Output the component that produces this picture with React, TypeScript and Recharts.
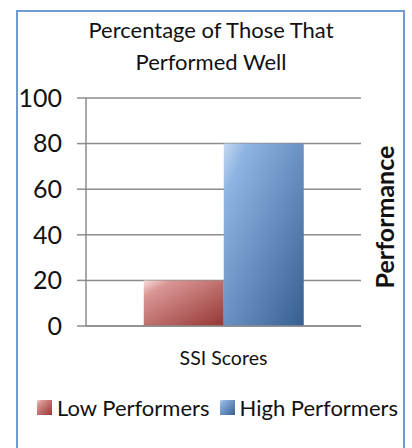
import { Bar, BarChart, CartesianGrid, Legend, XAxis, YAxis } from "recharts";

const categories = ["SSI Scores"];
const lowPerformers = [20];
const highPerformers = [80];
const yTicks = [0, 20, 40, 60, 80, 100];
const categoryEdges = [0, 1];

const data = categories.map((name, i) => ({
  name,
  low: lowPerformers[i],
  high: highPerformers[i],
}));

const FONT = "Lato, Carlito, Calibri, sans-serif";

const legendItems = [
  { label: "Low Performers", fill: "url(#redGrad)" },
  { label: "High Performers", fill: "url(#blueGrad)" },
];

function LegendContent() {
  return (
    <div style={{ display: "flex", alignItems: "center", fontFamily: FONT, fontSize: 22, color: "#111" }}>
      {legendItems.map((it, i) => (
        <div key={it.label} style={{ display: "flex", alignItems: "center", marginRight: i === 0 ? 10 : 0 }}>
          <svg width={15} height={15} style={{ marginRight: 5 }}>
            <rect width={15} height={15} fill={it.fill} />
          </svg>
          <span>{it.label}</span>
        </div>
      ))}
    </div>
  );
}

export default function App() {
  return (
    <div style={{ position: "absolute", left: 0, top: 0, width: 412, height: 448, overflow: "hidden", background: "#fff" }}>
      <div
        style={{
          position: "absolute",
          left: 16,
          top: 10,
          width: 385,
          height: 460,
          border: "2px solid #6f9bd2",
        }}
      />
      <div
        style={{
          position: "absolute",
          left: 0,
          top: 14,
          width: 422,
          textAlign: "center",
          fontFamily: FONT,
          fontSize: 22,
          lineHeight: "32px",
          color: "#111",
        }}
      >
        Percentage of Those That
        <br />
        Performed Well
      </div>
      <div
        style={{
          position: "absolute",
          left: 384,
          top: 217,
          transform: "translate(-50%, -50%) rotate(-90deg)",
          fontFamily: FONT,
          fontWeight: 700,
          fontSize: 25,
          whiteSpace: "nowrap",
          color: "#111",
        }}
      >
        Performance
      </div>
      <BarChart
        width={412}
        height={448}
        data={data}
        margin={{ top: 98, right: 51, left: 0, bottom: 92 }}
        barCategoryGap="21%"
        barGap={0}
        style={{ position: "absolute", left: 0, top: 0 }}
      >
        <defs>
          <linearGradient id="redGrad" x1="0" y1="0" x2="1" y2="1">
            <stop offset="0%" stopColor="#f6dede" />
            <stop offset="18%" stopColor="#d99694" />
            <stop offset="100%" stopColor="#943634" />
          </linearGradient>
          <linearGradient id="blueGrad" x1="0" y1="0" x2="1" y2="1">
            <stop offset="0%" stopColor="#c6d9f0" />
            <stop offset="15%" stopColor="#8eb4e3" />
            <stop offset="100%" stopColor="#365f91" />
          </linearGradient>
        </defs>
        <CartesianGrid vertical={false} stroke="#8c8c8c" strokeWidth={1.5} />
        <XAxis
          xAxisId="edges"
          type="number"
          domain={[0, 1]}
          ticks={categoryEdges}
          height={0}
          axisLine={false}
          tickLine={{ stroke: "#8c8c8c", strokeWidth: 1.5 }}
          tickSize={6}
          tick={() => <g />}
        />
        <XAxis
          dataKey="name"
          height={30}
          axisLine={{ stroke: "#8c8c8c", strokeWidth: 1.5 }}
          tickLine={false}
          tickMargin={19}
          tick={{ fill: "#111", fontSize: 19.5, fontFamily: FONT }}
        />
        <YAxis
          width={86}
          domain={[0, 100]}
          ticks={yTicks}
          interval={0}
          axisLine={{ stroke: "#8c8c8c", strokeWidth: 1.5 }}
          tickLine={{ stroke: "#8c8c8c", strokeWidth: 1.5 }}
          tickSize={9}
          tickMargin={15}
          tick={{ fill: "#111", fontSize: 25, fontFamily: FONT }}
        />
        <Bar dataKey="low" name="Low Performers" fill="url(#redGrad)" isAnimationActive={false} />
        <Bar dataKey="high" name="High Performers" fill="url(#blueGrad)" isAnimationActive={false} />
        <Legend
          layout="horizontal"
          verticalAlign="middle"
          align="center"
          wrapperStyle={{ top: 394, left: 37, width: "auto" }}
          content={<LegendContent />}
        />
      </BarChart>
    </div>
  );
}
